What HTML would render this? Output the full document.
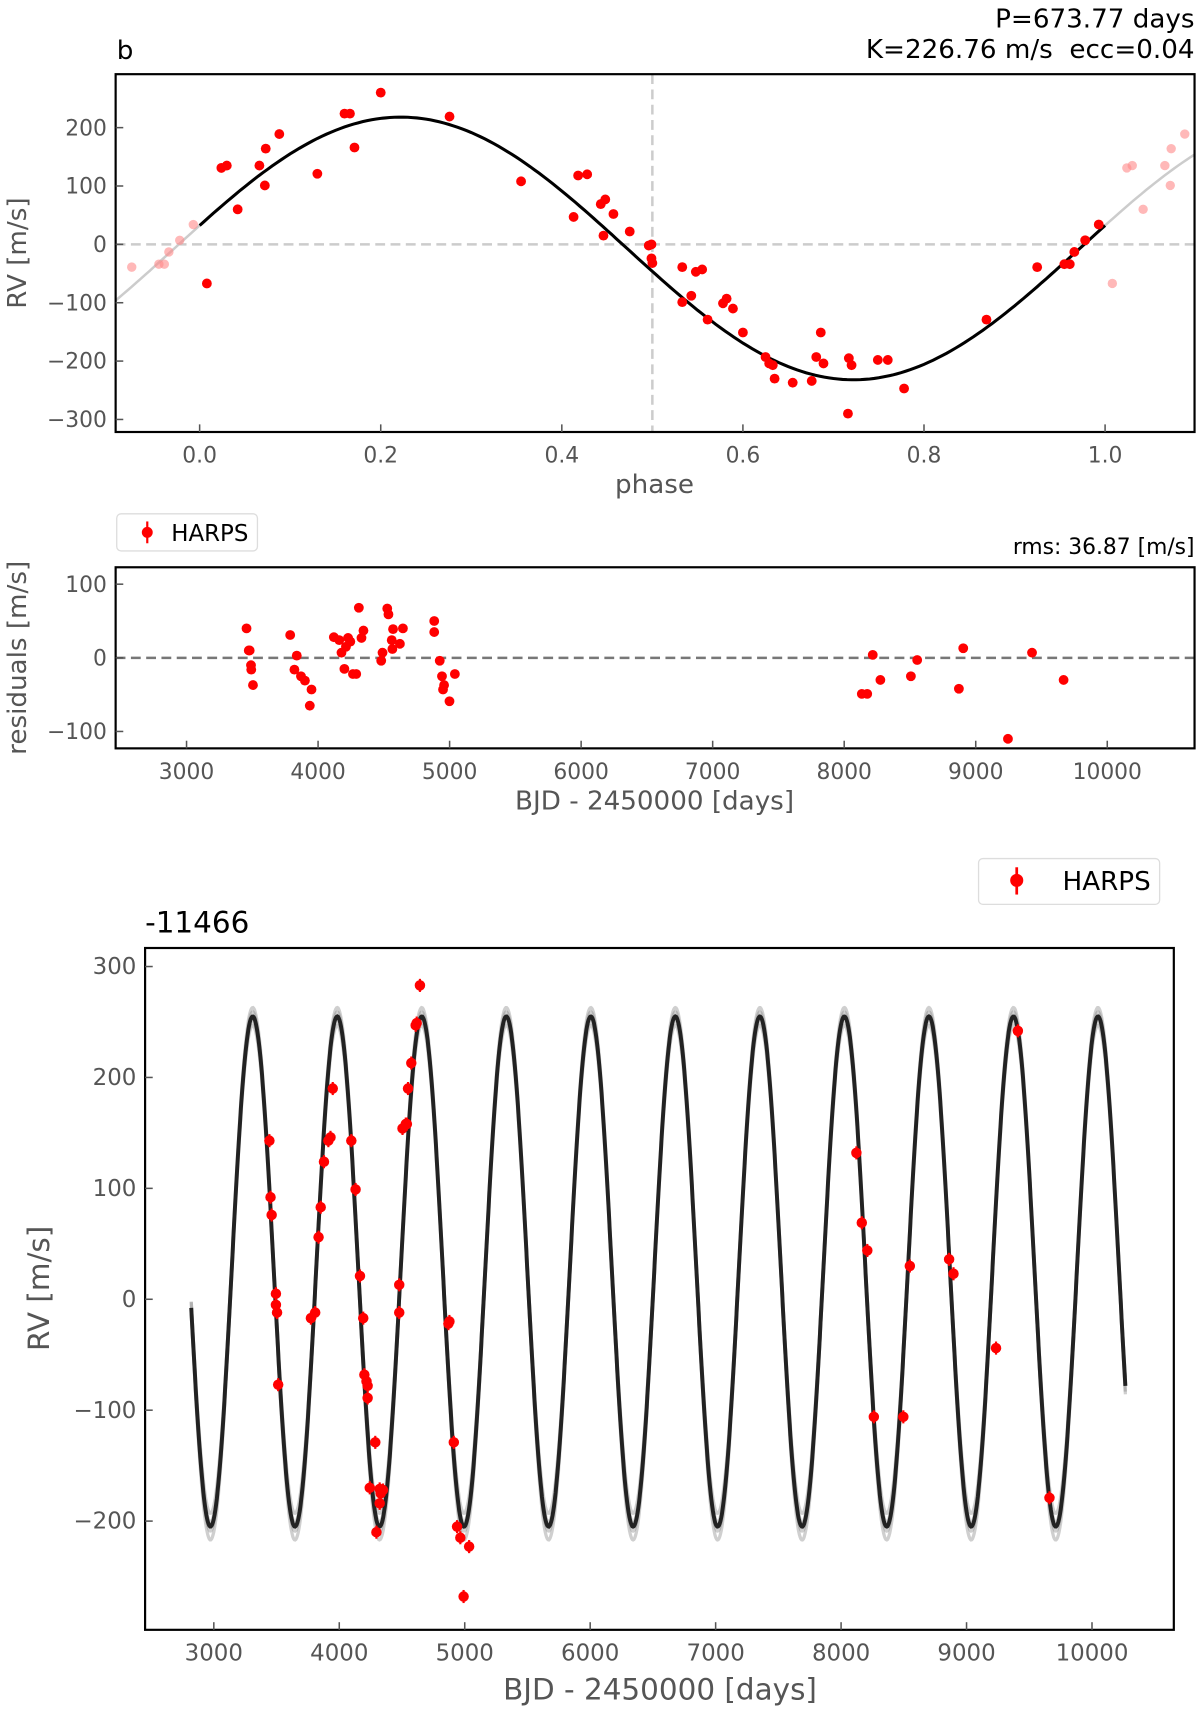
<!DOCTYPE html>
<html><head><meta charset="utf-8">
<style>
html,body{margin:0;padding:0;background:#fff;}
svg{display:block;font-family:"DejaVu Sans","Liberation Sans",sans-serif;}
text{white-space:pre;}
</style></head>
<body>
<svg id="chart" width="1200" height="1709" viewBox="0 0 1200 1709" xmlns="http://www.w3.org/2000/svg">
<g id="root" transform="scale(1.090909)"></g>
</svg>
<script>
// ---- Data ----
const phaseVals = [0.008,0.024,0.030,0.042,0.066,0.073,0.072,0.088,0.130,0.160,0.166,0.171,0.200,0.276,0.355,0.413,0.418,0.428,0.443,0.448,0.446,0.457,0.475,0.496,0.499,0.499,0.500,0.533,0.533,0.543,0.548,0.555,0.561,0.578,0.582,0.589,0.600,0.625,0.629,0.633,0.635,0.655,0.676,0.686,0.681,0.689,0.716,0.717,0.720,0.749,0.760,0.778,0.869,0.925,0.955,0.961,0.966,0.978,0.993];
const phaseRV = [-67,131,135,60,135,164,101,189,121,224,224,166,260,219,108,47,118,120,69,77,15,52,22,-2,0,-24,-32,-39,-99,-88,-47,-43,-129,-101,-93,-110,-151,-193,-204,-207,-230,-237,-234,-151,-193,-204,-290,-195,-207,-198,-198,-247,-129,-39,-34,-34,-13,7,34];
const phaseTicks = [0.0,0.2,0.4,0.6,0.8,1.0];
const phaseTickLabels = ["0.0","0.2","0.4","0.6","0.8","1.0"];
const rvTicks1 = [200,100,0,-100,-200,-300];
const modelK = 225, modelC = -7, modelPhiMax = 0.222;

const resTimes = [3456,3473,3480,3490,3492,3505,3788,3820,3838,3870,3900,3937,3950,4120,4161,4178,4200,4212,4228,4245,4265,4290,4310,4330,4345,4480,4490,4526,4535,4560,4570,4565,4622,4645,4883,4883,4925,4942,4950,4958,4999,5040,8134,8175,8217,8275,8507,8555,8872,8905,9245,9428,9668];
const resVals = [40,10,10,-10,-16,-37,31,-16,3,-25,-31,-65,-43,28,24,7,-15,15,27,22,-22,-22,68,27,37,-4,7,67,59,24,39,12,19,40,50,35,-4,-25,-43,-37,-59,-22,-49,-49,4,-30,-25,-3,-42,13,-110,7,-30];
const resTicksX = [3000,4000,5000,6000,7000,8000,9000,10000];
const resTicksY = [100,0,-100];

const rvTimes = [3443,3452,3461,3495,3495,3504,3513,3774,3808,3835,3852,3878,3913,3930,3948,4096,4130,4165,4191,4200,4217,4226,4226,4243,4287,4296,4322,4322,4330,4348,4478,4478,4504,4530,4539,4548,4574,4609,4617,4643,4870,4878,4913,4939,4965,4991,5035,8122,8165,8209,8261,8496,8548,8861,8896,9235,9409,9661];
const rvVals = [143,92,76,5,-5,-12,-77,-17,-12,56,83,124,143,146,190,143,99,21,-17,-68,-74,-78,-89,-170,-129,-210,-171,-184,-175,-172,13,-12,154,158,158,190,213,247,249,283,-22,-20,-129,-205,-215,-268,-223,132,69,44,-106,-106,30,36,23,-44,242,-179];
const rvTicksX = [3000,4000,5000,6000,7000,8000,9000,10000];
const rvTicksY = [300,200,100,0,-100,-200];
const orbitP = 673.77, orbitK = 230, orbitC = 25, orbitT0 = 3310;

// ---- Helpers ----
const NS = "http://www.w3.org/2000/svg";
const root = document.getElementById('root');
function mk(tag, attrs, parent, text){
  const e = document.createElementNS(NS, tag);
  for (const k in attrs) e.setAttribute(k, attrs[k]);
  if (text !== undefined) e.textContent = text;
  (parent || root).appendChild(e);
  return e;
}
const GREY = "#555";

function axesFrame(g, x0, y0, x1, y1){
  const r = mk('rect', {x:x0, y:y0, width:x1-x0, height:y1-y0, fill:'none', stroke:'#000', 'stroke-width':2}, g);
  
  
}
function xTicks(g, ticks, labels, sx, y1, y0, fs){
  ticks.forEach((t, i) => {
    const x = sx(t);
    mk('line', {x1:x, x2:x, y1:y1, y2:y1-7, stroke:GREY, 'stroke-width':1.4}, g);
    const tx = mk('text', {x:x, y:y1+28, 'text-anchor':'middle', 'font-size':fs, fill:GREY}, g, labels[i]);
    
    
  });
}
function yTicks(g, ticks, sy, x0, fs){
  ticks.forEach(t => {
    const y = sy(t);
    mk('line', {x1:x0, x2:x0+7, y1:y, y2:y, stroke:GREY, 'stroke-width':1.4}, g);
    const lab = t < 0 ? '\u2212' + Math.abs(t) : String(t);
    const tx = mk('text', {x:x0-8, y:y+7, 'text-anchor':'end', 'font-size':fs, fill:GREY}, g, lab);
    
    
  });
}

// ---- Panel 1: phase-folded ----
(function(){
  const g = mk('g', {});  
  const X0=106, X1=1095, Y0=68, Y1=396;
  const sx = p => 183 + p*830;
  const sy = v => 224 - v*0.535;
  mk('clipPath', {id:'c1'}, g);
  mk('rect', {x:X0, y:Y0, width:X1-X0, height:Y1-Y0}, g.lastChild);
  const inner = mk('g', {'clip-path':'url(#c1)'}, g);
  mk('line', {x1:X0, x2:X1, y1:sy(0), y2:sy(0), stroke:'#ccc', 'stroke-width':2.3, 'stroke-dasharray':'9,5'}, inner);
  mk('line', {x1:sx(0.5), x2:sx(0.5), y1:Y0, y2:Y1, stroke:'#ccc', 'stroke-width':2.3, 'stroke-dasharray':'9,5'}, inner);
  const model = p => modelC + modelK*Math.cos(2*Math.PI*(p-modelPhiMax));
  function path(a, b){ let d=''; for(let p=a; p<=b+1e-9; p+=0.005){ d += (d?'L':'M') + sx(p).toFixed(1) + ',' + sy(model(p)).toFixed(1);} return d; }
  const gl = mk('path', {d:path(-0.1,0)+path(1,1.1), fill:'none', stroke:'#ccc', 'stroke-width':2.3}, inner);
   
  const bl = mk('path', {d:path(0,1), fill:'none', stroke:'#000', 'stroke-width':2.8}, inner);
   
  phaseVals.forEach((p, i) => {
    const shifts = [];
    if (p > 0.85) shifts.push(-1);
    if (p < 0.15) shifts.push(1);
    shifts.forEach(s => {
      const c = mk('circle', {cx:sx(p+s), cy:sy(phaseRV[i]), r:4.3, fill:'#f88', opacity:0.6}, inner);
       
    });
  });
  phaseVals.forEach((p, i) => {
    const c = mk('circle', {cx:sx(p), cy:sy(phaseRV[i]), r:4.5, fill:'red'}, inner);
     
  });
  axesFrame(g, X0, Y0, X1, Y1);
  xTicks(g, phaseTicks, phaseTickLabels, sx, Y1, Y0, 20);
  yTicks(g, rvTicks1, sy, X0, 20);
  let t = mk('text', {x:600, y:452, 'text-anchor':'middle', 'font-size':24, fill:GREY}, g, 'phase');
   
  t = mk('text', {x:0, y:0, transform:'translate(24,232) rotate(-90)', 'text-anchor':'middle', 'font-size':24, fill:GREY}, g, 'RV [m/s]');
   
  t = mk('text', {x:107, y:54, 'font-size':24, fill:'#000'}, g, 'b');
   
  t = mk('text', {x:1095, y:25, 'text-anchor':'end', 'font-size':24, fill:'#000'}, g, 'P=673.77 days');
   
  t = mk('text', {x:1095, y:53, 'text-anchor':'end', 'font-size':24, fill:'#000'}, g, 'K=226.76 m/s  ecc=0.04');
   
})();

// ---- Panel 2: residuals ----
(function(){
  const g = mk('g', {});  
  const X0=106, X1=1095, Y0=520, Y1=686;
  const sx = t => 171 + (t-3000)*0.12057;
  const sy = v => 603 - v*0.675;
  mk('line', {x1:X0, x2:X1, y1:sy(0), y2:sy(0), stroke:'#777', 'stroke-width':2.3, 'stroke-dasharray':'9,5'}, g);
  resTimes.forEach((t, i) => {
    const c = mk('circle', {cx:sx(t), cy:sy(resVals[i]), r:4.5, fill:'red'}, g);
     
  });
  axesFrame(g, X0, Y0, X1, Y1);
  xTicks(g, resTicksX, resTicksX.map(String), sx, Y1, Y0, 20);
  yTicks(g, resTicksY, sy, X0, 20);
  let t = mk('text', {x:600, y:742, 'text-anchor':'middle', 'font-size':24, fill:GREY}, g, 'BJD - 2450000 [days]');
   
  t = mk('text', {x:0, y:0, transform:'translate(24,603) rotate(-90)', 'text-anchor':'middle', 'font-size':24, fill:GREY}, g, 'residuals [m/s]');
   
  t = mk('text', {x:1095, y:508, 'text-anchor':'end', 'font-size':20, fill:'#000'}, g, 'rms: 36.87 [m/s]');
   
  const lg = mk('g', {}, g);  
  mk('rect', {x:107, y:471, width:129, height:34, rx:4, fill:'#fff', stroke:'#ddd', 'stroke-width':1.2}, lg);
  mk('line', {x1:135, x2:135, y1:478, y2:498, stroke:'red', 'stroke-width':2}, lg);
  mk('circle', {cx:135, cy:488, r:5, fill:'red'}, lg);
  mk('text', {x:157, y:496, 'font-size':21, fill:'#000'}, lg, 'HARPS');
})();

// ---- Panel 3: RV time series ----
(function(){
  const g = mk('g', {});  
  const X0=133, X1=1076, Y0=869, Y1=1494;
  const sx = t => 196 + (t-3000)*0.115;
  const sy = v => 1191 - v*1.0167;
  const model = (t, k) => orbitC + k*Math.cos(2*Math.PI*(t-orbitT0)/orbitP);
  function path(k, dc){ let d=''; for(let t=2820; t<=10270; t+=6){ d += (d?'L':'M') + sx(t).toFixed(1) + ',' + sy(model(t,k)+dc).toFixed(1);} return d; }
  [[238,-4],[222,4],[232,6],[228,-6]].forEach(([k,dc]) => {
    mk('path', {d:path(k,dc), fill:'none', stroke:'#888', 'stroke-width':3, opacity:0.4}, g);
  });
  const ml = mk('path', {d:path(orbitK,0), fill:'none', stroke:'#222', 'stroke-width':3.6}, g);
   
  rvTimes.forEach((t, i) => {
    mk('line', {x1:sx(t), x2:sx(t), y1:sy(rvVals[i])-6, y2:sy(rvVals[i])+6, stroke:'red', 'stroke-width':2}, g);
    const c = mk('circle', {cx:sx(t), cy:sy(rvVals[i]), r:4.8, fill:'red'}, g);
     
  });
  axesFrame(g, X0, Y0, X1, Y1);
  xTicks(g, rvTicksX, rvTicksX.map(String), sx, Y1, Y0, 21);
  yTicks(g, rvTicksY, sy, X0, 21);
  let t = mk('text', {x:605, y:1558, 'text-anchor':'middle', 'font-size':27, fill:GREY}, g, 'BJD - 2450000 [days]');
   
  t = mk('text', {x:0, y:0, transform:'translate(45,1181) rotate(-90)', 'text-anchor':'middle', 'font-size':27, fill:GREY}, g, 'RV [m/s]');
   
  t = mk('text', {x:133, y:855, 'font-size':27, fill:'#000'}, g, '-11466');
   
  const lg = mk('g', {}, g);  
  mk('rect', {x:897, y:787, width:166, height:42, rx:4, fill:'#fff', stroke:'#ddd', 'stroke-width':1.2}, lg);
  mk('line', {x1:932, x2:932, y1:795, y2:820, stroke:'red', 'stroke-width':2.5}, lg);
  mk('circle', {cx:932, cy:807, r:6, fill:'red'}, lg);
  mk('text', {x:974, y:816, 'font-size':24, fill:'#000'}, lg, 'HARPS');
})();
</script>
</body></html>
